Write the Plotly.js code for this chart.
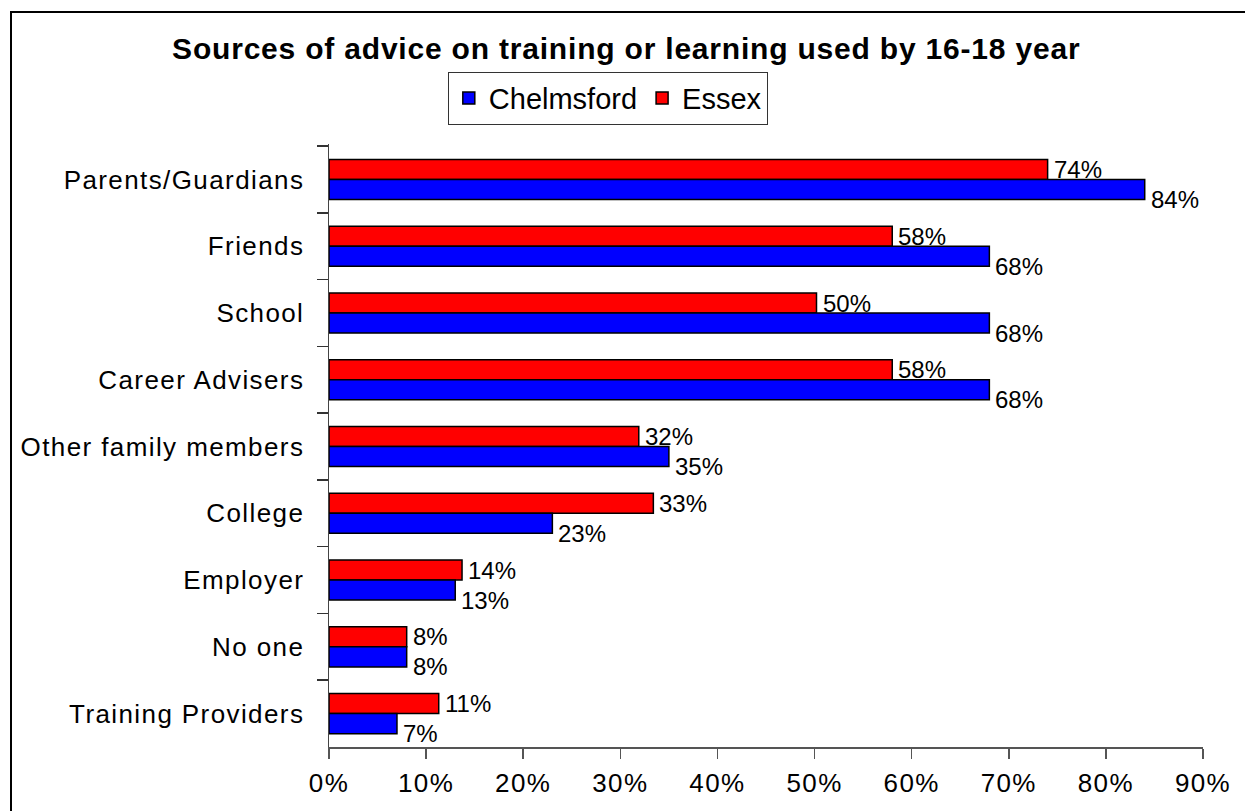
<!DOCTYPE html>
<html>
<head>
<meta charset="utf-8">
<script src="https://cdn.plot.ly/plotly-3.0.1.min.js"></script>
<style>
  html, body { margin: 0; padding: 0; background: #fff; overflow: hidden; }
  #chart { width: 1245px; height: 811px; }
  #frame { position: absolute; left: 10px; top: 11px; width: 1300px; height: 900px;
           border: 2px solid #000; pointer-events: none; }
  #chart .ytick text, #chart .xtick text { letter-spacing: 1.4px; }
  #chart .gtitle { letter-spacing: 0.8px; }
</style>
</head>
<body>
<div id="chart"></div>
<div id="frame"></div>
<script>
const categories = ["Parents/Guardians", "Friends", "School", "Career Advisers",
  "Other family members", "College", "Employer", "No one", "Training Providers"];
const chelmsford = [84, 68, 68, 68, 35, 23, 13, 8, 7];
const essex = [74, 58, 50.2, 58, 31.9, 33.4, 13.7, 8, 11.3];
const xTickValues = [0, 10, 20, 30, 40, 50, 60, 70, 80, 90];

const FONT = "Liberation Sans, Arial, sans-serif";

const traces = [
  {
    type: "bar", orientation: "h", name: "Essex",
    x: essex, y: categories,
    marker: { color: "#FF0000", line: { color: "#000", width: 1.5 } },
    hoverinfo: "skip"
  },
  {
    type: "bar", orientation: "h", name: "Chelmsford",
    x: chelmsford, y: categories,
    marker: { color: "#0000FF", line: { color: "#000", width: 1.5 } },
    hoverinfo: "skip"
  }
];

const annotations = [];
categories.forEach((c, i) => {
  annotations.push({
    x: essex[i], y: c, xref: "x", yref: "y",
    text: Math.round(essex[i]) + "%", showarrow: false,
    xanchor: "left", yanchor: "middle", xshift: 4, yshift: 10,
    font: { family: FONT, size: 24, color: "#000" }
  });
  annotations.push({
    x: chelmsford[i], y: c, xref: "x", yref: "y",
    text: Math.round(chelmsford[i]) + "%", showarrow: false,
    xanchor: "left", yanchor: "middle", xshift: 4, yshift: -20,
    font: { family: FONT, size: 24, color: "#000" }
  });
});

const layout = {
  width: 1245, height: 811,
  margin: { l: 329, r: 42, t: 144, b: 64, pad: 0 },
  paper_bgcolor: "#fff", plot_bgcolor: "#fff",
  font: { family: FONT, color: "#000" },
  title: {
    text: "<b>Sources of advice on training or learning used by 16-18 year</b>",
    font: { family: FONT, size: 30, color: "#000" },
    x: 0.503, xref: "container", xanchor: "center",
    y: 0.94, yref: "container", yanchor: "middle"
  },
  barmode: "group",
  bargap: 0.4,
  bargroupgap: 0,
  showlegend: true,
  legend: {
    orientation: "h",
    traceorder: "reversed",
    x: 0.319, xanchor: "center",
    y: 1.12, yanchor: "top",
    bordercolor: "#333", borderwidth: 1,
    bgcolor: "#fff",
    font: { family: FONT, size: 29, color: "#000" },
    itemwidth: 30
  },
  xaxis: {
    range: [0, 90],
    tickvals: xTickValues,
    ticktext: xTickValues.map(v => v + "%"),
    showgrid: false, zeroline: false,
    showline: true, linecolor: "#555", linewidth: 1.5,
    ticks: "outside", ticklen: 10, tickcolor: "#555", tickwidth: 1.5,
    tickfont: { family: FONT, size: 26, color: "#000" },
    ticklabelstandoff: 2,
    fixedrange: true
  },
  yaxis: {
    type: "category",
    autorange: "reversed",
    showgrid: false, zeroline: false,
    showline: true, linecolor: "#444", linewidth: 1.5,
    ticks: "outside", ticklen: 11, tickcolor: "#333", tickwidth: 1.5,
    tickson: "boundaries",
    tickfont: { family: FONT, size: 26, color: "#000" },
    ticklabelstandoff: 18,
    fixedrange: true
  },
  annotations: annotations
};

Plotly.newPlot("chart", traces, layout, { displayModeBar: false, staticPlot: true });
</script>
</body>
</html>
